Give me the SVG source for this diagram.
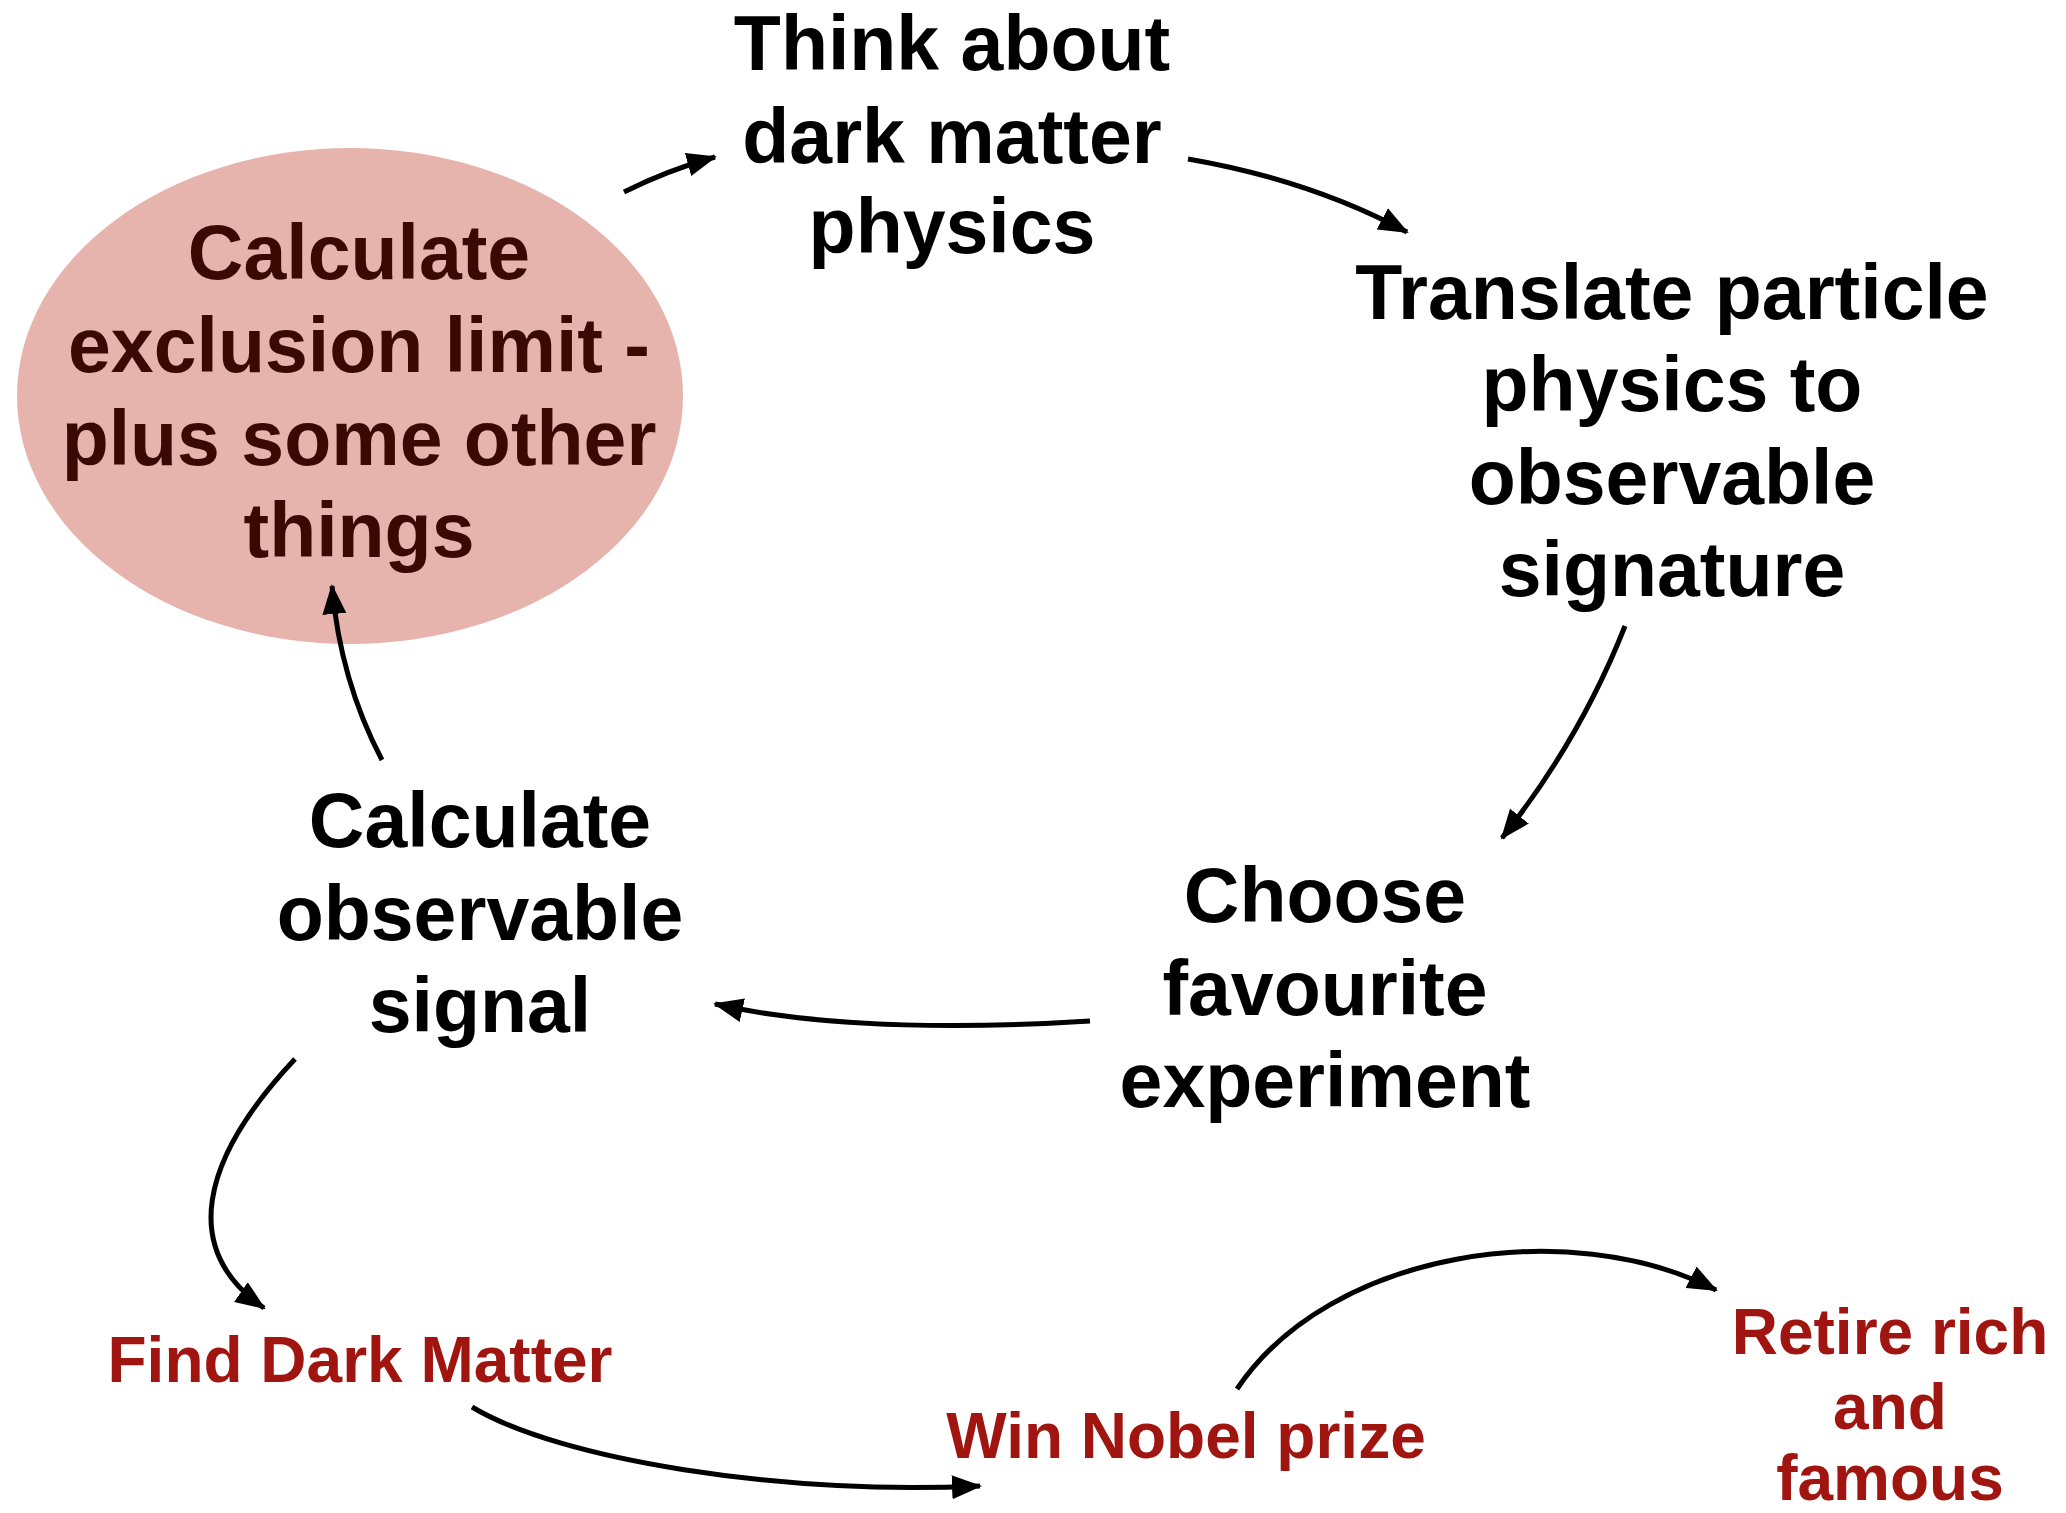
<svg xmlns="http://www.w3.org/2000/svg" width="2066" height="1513" viewBox="0 0 2066 1513">
<style>
text{font-family:"Liberation Sans",Arial,sans-serif;font-weight:bold;text-anchor:middle}
.main{font-size:77px;fill:#000}
.ell{font-size:77px;fill:#3a0904}
.red{font-size:64px;fill:#a01510}
.conn{fill:none;stroke:#000;stroke-width:5}
</style>
<defs>
<marker id="ah" viewBox="0 0 30 24" refX="28" refY="12" markerWidth="30" markerHeight="24" markerUnits="userSpaceOnUse" orient="auto">
<path d="M0,0 L30,12 L0,24 Z" fill="#000"/>
</marker>
</defs>
<rect width="2066" height="1513" fill="#fff"/>
<g id="node-exclusion">
<ellipse cx="350" cy="396" rx="333" ry="248" fill="#e7b4ad"/>
<text class="ell" x="359" y="279">Calculate</text>
<text class="ell" x="359" y="372">exclusion limit -</text>
<text class="ell" x="359" y="465">plus some other</text>
<text class="ell" x="359" y="557">things</text>
</g>
<g id="node-think">
<text class="main" x="952" y="70">Think about</text>
<text class="main" x="952" y="163">dark matter</text>
<text class="main" x="952" y="253">physics</text>
</g>
<g id="node-translate">
<text class="main" x="1672" y="319">Translate particle</text>
<text class="main" x="1672" y="411">physics to</text>
<text class="main" x="1672" y="504">observable</text>
<text class="main" x="1672" y="596">signature</text>
</g>
<g id="node-choose">
<text class="main" x="1325" y="922">Choose</text>
<text class="main" x="1325" y="1015">favourite</text>
<text class="main" x="1325" y="1107">experiment</text>
</g>
<g id="node-signal">
<text class="main" x="480" y="847">Calculate</text>
<text class="main" x="480" y="940">observable</text>
<text class="main" x="480" y="1032">signal</text>
</g>
<g id="node-find">
<text class="red" x="360" y="1382">Find Dark Matter</text>
</g>
<g id="node-nobel">
<text class="red" x="1186" y="1458">Win Nobel prize</text>
</g>
<g id="node-retire">
<text class="red" x="1890" y="1354">Retire rich</text>
<text class="red" x="1890" y="1429">and</text>
<text class="red" x="1890" y="1500">famous</text>
</g>
<g id="connectors">
<path class="conn" marker-end="url(#ah)" d="M624,192 Q668,170 715,157"/>
<path class="conn" marker-end="url(#ah)" d="M1188,159 Q1310,180 1407,232"/>
<path class="conn" marker-end="url(#ah)" d="M1625,626 Q1580,740 1502,838"/>
<path class="conn" marker-end="url(#ah)" d="M1090,1021 C980,1028 830,1030 715,1004"/>
<path class="conn" marker-end="url(#ah)" d="M382,760 Q340,680 332,586"/>
<path class="conn" marker-end="url(#ah)" d="M295,1059 C200,1160 180,1250 264,1308"/>
<path class="conn" marker-end="url(#ah)" d="M472,1407 C560,1460 780,1495 980,1486"/>
<path class="conn" marker-end="url(#ah)" d="M1237,1389 C1330,1250 1570,1215 1716,1290"/>
</g>
</svg>
